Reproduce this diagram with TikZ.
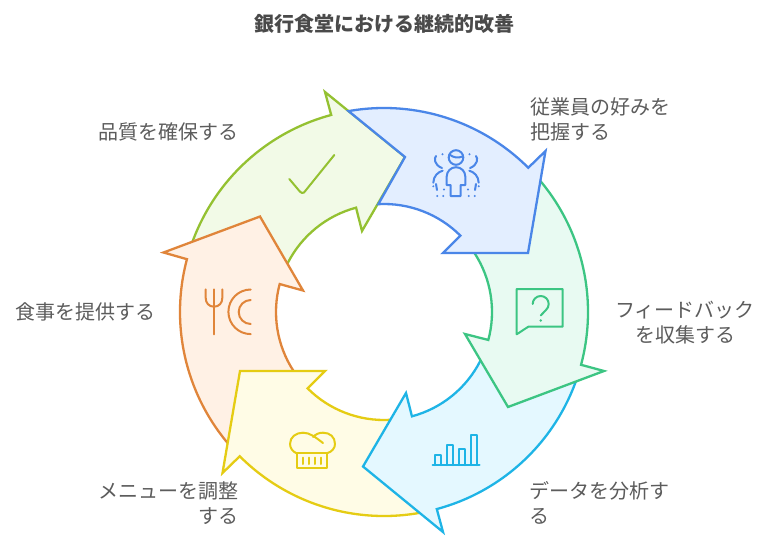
\documentclass[tikz,border=0pt]{standalone}
\usepackage{fontspec}
\setmainfont{Noto Sans CJK JP}
\usetikzlibrary{calc}
\definecolor{cblue}{HTML}{4A86E8}\definecolor{fblue}{HTML}{E3EEFF}
\definecolor{cgreen}{HTML}{3CC583}\definecolor{fgreen}{HTML}{E8FAF2}
\definecolor{ccyan}{HTML}{1EB4E6}\definecolor{fcyan}{HTML}{E4F8FF}
\definecolor{cyellow}{HTML}{E5CC13}\definecolor{fyellow}{HTML}{FFFCE6}
\definecolor{corange}{HTML}{E0853A}\definecolor{forange}{HTML}{FFF1E5}
\definecolor{clime}{HTML}{94C131}\definecolor{flime}{HTML}{F2FAE7}
\definecolor{labelgrey}{HTML}{5C5C5C}
\definecolor{titlegrey}{HTML}{4A4A4A}
\newcommand{\Pol}[2]{($(c)+(#1:#2)$)}
\tikzset{
  seg/.style n args={2}{draw=#1,fill=#2,line width=2.3pt,miter limit=10},
  icon/.style={draw=#1,line width=2pt,line cap=round,line join=round},
  lab/.style={text=labelgrey,font=\fontsize{20}{25}\selectfont,inner sep=0pt},
  ttl/.style={text=titlegrey,font=\fontsize{20}{25}\selectfont\bfseries,inner sep=0pt}
}
\begin{document}
\begin{tikzpicture}[x=1pt,y=1pt,yscale=-1]
\useasboundingbox (0,0) rectangle (768,546);
\fill[white] (0,0) rectangle (768,546);
\coordinate (c) at (384,312);
% arrows, back to front
\draw[seg={clime}{flime}] \Pol{200}{204} arc[start angle=200,end angle=255,radius=204]
  -- (325,92) -- (405,157) -- (362,231) -- \Pol{255}{108} arc[start angle=255,end angle=207,radius=108] -- cycle;
\draw[seg={corange}{forange}] \Pol{140}{204} arc[start angle=140,end angle=195,radius=204]
  -- (163.5,252.5) -- (260,216.5) -- (303,290.5) -- \Pol{195}{108} arc[start angle=195,end angle=147,radius=108] -- cycle;
\draw[seg={cyellow}{fyellow}] \Pol{80}{204} arc[start angle=80,end angle=135,radius=204]
  -- (222.5,473) -- (240,371) -- (325,371) -- \Pol{135}{108} arc[start angle=135,end angle=87,radius=108] -- cycle;
\draw[seg={ccyan}{fcyan}] \Pol{20}{204} arc[start angle=20,end angle=75,radius=204]
  -- (443,532) -- (363,466.5) -- (406,393) -- \Pol{75}{108} arc[start angle=75,end angle=27,radius=108] -- cycle;
\draw[seg={cgreen}{fgreen}] \Pol{320}{204} arc[start angle=320,end angle=375,radius=204]
  -- (604,371) -- (508,407) -- (465,334) -- \Pol{15}{108} arc[start angle=15,end angle=-33,radius=108] -- cycle;
\draw[seg={cblue}{fblue}] \Pol{260}{204} arc[start angle=260,end angle=315,radius=204]
  -- (545.5,151) -- (528,253) -- (443,253) -- \Pol{315}{108} arc[start angle=315,end angle=267,radius=108] -- (405,157) -- cycle;
% people icon
\draw[icon=cblue] (456,157.5) circle[radius=7.3];
\draw[icon=cblue] (449.5,154.5) .. controls (453,157.5) and (458,158.5) .. (462.5,156.5);
\draw[icon=cblue] (450.7,196) -- (450.7,185) -- (446.7,185) -- (446.7,176.5) arc[start angle=180,end angle=360,radius=9.3] -- (465.3,185) -- (460.7,185) -- (460.7,196) -- cycle;
\foreach \sx/\sgn in {456/-1,456/1}{
  \begin{scope}[shift={(\sx,0)},xscale=\sgn]
    \fill[cblue] (13.5,154.3) circle[radius=1.1];
    \draw[icon=cblue] (20,156) .. controls (22,158) and (22,165) .. (14,168);
    \draw[icon=cblue] (13.3,170.7) .. controls (18,172) and (22.5,176) .. (22.7,182.7);
    \fill[cblue] (22.7,186.3) circle[radius=1.1];
    \draw[icon=cblue] (20,184) -- (19,190);
    \fill[cblue] (18.7,196) circle[radius=1.1];
    \fill[cblue] (12.7,196) circle[radius=1.1];
    \fill[cblue] (12,189.5) circle[radius=1.1];
  \end{scope}
}
% question icon
\draw[icon=cgreen] (516.7,289) -- (562.7,289) -- (562.7,326.7) -- (528.3,326.7) -- (516.7,334.3) -- cycle;
\draw[icon=cgreen] (532.7,304) arc[start angle=180,end angle=410,radius=8] -- (540.7,315.5);
\fill[cgreen] (540.7,320.5) circle[radius=1.4];
% bars icon
\draw[icon=ccyan] (432.5,465) -- (479.5,465);
\draw[icon=ccyan] (434.7,465) -- (434.7,455) -- (441,455) -- (441,465);
\draw[icon=ccyan] (446.7,465) -- (446.7,445) -- (452.7,445) -- (452.7,465);
\draw[icon=ccyan] (459,465) -- (459,449) -- (465,449) -- (465,465);
\draw[icon=ccyan] (471,465) -- (471,435) -- (477,435) -- (477,465);
% chef hat icon
\draw[icon=cyellow] (296.7,453.3) rectangle (326.7,468.3);
\foreach \xp in {302.7,308.7,315,321}{\draw[icon=cyellow] (\xp,457.5) -- (\xp,464);}
\draw[icon=cyellow] (296.7,453.3) .. controls (293,452) and (290,448) .. (290,444) .. controls (290,437) and (296,432.7) .. (303,432.7) .. controls (310,432.7) and (315,437) .. (323,443);
\draw[icon=cyellow] (313,437) .. controls (316,434) and (319,432.7) .. (323,432.7) .. controls (330,432.7) and (335,437) .. (335,444) .. controls (335,448) and (332,452) .. (326.7,453.3);
% fork and plate icon
\draw[icon=corange] (214,289.3) -- (214,334.3);
\draw[icon=corange] (205.7,289.3) -- (205.7,298) .. controls (205.7,303) and (209,306.7) .. (214,306.7) .. controls (219,306.7) and (222.3,303) .. (222.3,298) -- (222.3,289.3);
\draw[icon=corange] (250.7,289.5) arc[start angle=270,end angle=90,radius=22.3];
\draw[icon=corange] (250.7,300) arc[start angle=270,end angle=90,radius=12];
% check icon
\draw[icon=clime] (289.3,179) -- (300,191.7) .. controls (301.5,193.3) and (303,193.3) .. (304,192.5) -- (334.3,155);
% texts
\node[ttl] (title) at (384,24) {銀行食堂における継続的改善};
\node[lab,anchor=west,align=left] (lab1) at (530.5,119.5) {従業員の好みを\\把握する};
\node[lab,align=center] (lab2) at (685,323) {フィードバック\\を収集する};
\node[lab,anchor=west,align=left] (lab3) at (529.5,502.5) {データを分析す\\る};
\node[lab,anchor=east,align=right] (lab4) at (239,503.5) {メニューを調整\\する};
\node[lab,anchor=east] (lab5) at (156,312) {食事を提供する};
\node[lab,anchor=east] (lab6) at (239,132) {品質を確保する};
\end{tikzpicture}
\end{document}
